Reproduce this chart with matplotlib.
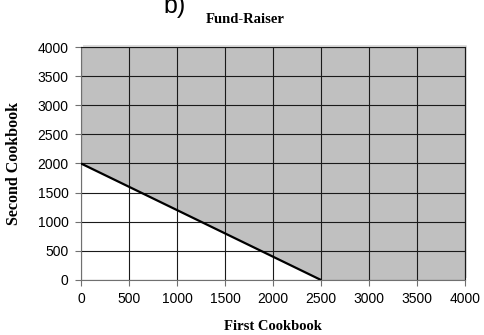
import numpy as np
import matplotlib
matplotlib.use('Agg')
import matplotlib.pyplot as plt
import matplotlib.transforms as mtransforms

# ── Datos ──────────────────────────────────────────────
first_cb  = [0, 2500]          # First Cookbook (x) de la recta de restricción
second_cb = [2000, 0]          # Second Cookbook (y)
x_region  = [0, 2500, 4000]    # borde inferior de la región sombreada
y_region  = [2000, 0, 0]
ticks     = [0, 500, 1000, 1500, 2000, 2500, 3000, 3500, 4000]
lim_max   = 4000

SERIF = 'Liberation Serif'
SANS  = 'Liberation Sans'
GRAY  = '#c0c0c0'

fig = plt.figure(figsize=(4.84, 3.35), dpi=100, facecolor='white')
ax = fig.add_axes([0.1674, 0.1642, 0.7933, 0.6955])

ax.fill_between(x_region, y_region, lim_max, color=GRAY, lw=0, zorder=1)
ax.plot(first_cb, second_cb, color='black', lw=1.6, zorder=4,
        solid_capstyle='butt')

# sombra clara arriba y a la derecha del área
shadow = mtransforms.offset_copy(ax.transAxes, fig=fig, x=1.5, y=1.5, units='dots')
ax.plot([0.005, 1, 1], [1, 1, 0.005], color='#dcdcdc', lw=1.4,
        transform=shadow, clip_on=False, zorder=0)

ax.set_xlim(0, lim_max)
ax.set_ylim(0, lim_max)
ax.set_xticks(ticks)
ax.set_yticks(ticks)
ax.grid(True, color='#1a1a1a', lw=0.8, zorder=2)
ax.set_axisbelow(False)
for sp in ax.spines.values():
    sp.set_color('#1a1a1a'); sp.set_linewidth(0.8); sp.set_zorder(3)
ax.spines['left'].set_color('#707070')
ax.spines['bottom'].set_color('#707070')
ax.tick_params(direction='out', length=4, width=0.8, color='#707070',
               labelsize=10, pad=5)
for lbl in ax.get_xticklabels() + ax.get_yticklabels():
    lbl.set_fontfamily(SANS)

ax.set_xlabel('First Cookbook', fontfamily=SERIF, fontweight='bold',
              fontsize=10.5, labelpad=10)
ax.set_ylabel('Second Cookbook', fontfamily=SERIF, fontweight='bold',
              fontsize=11.5, labelpad=11)

fig.text(0.506, 0.931, 'Fund-Raiser', ha='center', va='baseline',
         fontfamily=SERIF, fontweight='bold', fontsize=10.5)
fig.text(0.337, 0.961, 'b)', ha='left', va='baseline',
         fontfamily=SANS, fontsize=18)

fig.savefig('out.png', dpi=100, facecolor='white')
